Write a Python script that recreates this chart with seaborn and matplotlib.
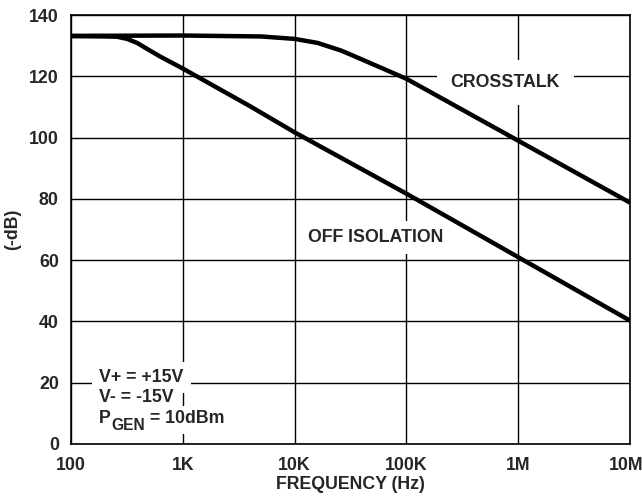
import numpy as np
import pandas as pd
import matplotlib
matplotlib.use('Agg')
import matplotlib.pyplot as plt
import matplotlib.transforms as mtransforms
from matplotlib.patches import Rectangle
import seaborn as sns

# values
iso_freq = [100, 200, 257, 316, 388, 500, 628, 1000, 4000, 10000, 1e5, 1e6, 1e7]
iso_db = [133.1, 133.0, 132.9, 132.2, 130.9, 128.5, 126.4, 122.5, 110.2, 101.7, 81.7, 61.0, 40.3]

xt_freq = [100, 1000, 5000, 10000, 16000, 26000, 34000, 55000, 1e5, 1e6, 1e7]
xt_db = [133.2, 133.3, 133.0, 132.2, 130.9, 128.4, 126.6, 123.3, 119.2, 99.0, 78.8]

x_ticks = [100, 1e3, 1e4, 1e5, 1e6, 1e7]
x_labels = ['100', '1K', '10K', '100K', '1M', '10M']
y_ticks = [0, 20, 40, 60, 80, 100, 120, 140]

sns.set_style('white')
plt.rcParams['font.family'] = ['Liberation Sans', 'DejaVu Sans']
plt.rcParams['font.weight'] = 'bold'

fs = 12.8

df_iso = pd.DataFrame({'freq': iso_freq, 'db': iso_db})
df_xt = pd.DataFrame({'freq': xt_freq, 'db': xt_db})

fig = plt.figure(figsize=(6.42, 5.0), dpi=100)
ax = fig.add_axes([0.111, 0.112, 0.870, 0.858])

sns.lineplot(data=df_xt, x='freq', y='db', ax=ax, color='black', lw=3.2, zorder=3)
sns.lineplot(data=df_iso, x='freq', y='db', ax=ax, color='black', lw=3.2, zorder=3)

ax.set_xscale('log')
ax.set_xlim(100, 1e7)
ax.set_ylim(0, 140)
ax.set_xticks(x_ticks)
ax.set_xticklabels(x_labels)
ax.set_yticks(y_ticks)
ax.minorticks_off()
ax.tick_params(axis='both', length=0, pad=9, labelsize=fs)
for lab in ax.get_xticklabels() + ax.get_yticklabels():
    lab.set_fontweight('bold')
# nudge "10M" a little left so it stays inside the picture
last = ax.get_xticklabels()[-1]
last.set_transform(last.get_transform() +
                   mtransforms.ScaledTranslation(-4 / 100, 0, fig.dpi_scale_trans))

ax.set_axisbelow(True)
ax.grid(True, which='major', color='black', lw=1)
for s in ax.spines.values():
    s.set_color('black')
    s.set_linewidth(1.2)

ax.set_xlabel('FREQUENCY (Hz)', fontsize=fs, fontweight='bold', labelpad=2)
ax.set_ylabel('(-dB)', fontsize=fs, fontweight='bold')
ax.yaxis.set_label_coords(-0.089, 0.5)

ax.text(7.7e5, 118, 'CROSSTALK', fontsize=fs, fontweight='bold',
        ha='center', va='center', zorder=2,
        bbox=dict(facecolor='white', edgecolor='none', boxstyle='square,pad=0.8'))
ax.text(5.3e4, 67.5, 'OFF ISOLATION', fontsize=fs, fontweight='bold',
        ha='center', va='center', zorder=2,
        bbox=dict(facecolor='white', edgecolor='none', boxstyle='square,pad=0.45'))

wbox = dict(facecolor='white', edgecolor='none', boxstyle='square,pad=0.4')
ax.text(178, 20.3, 'V+ = +15V', fontsize=fs, fontweight='bold', ha='left',
        va='baseline', zorder=2, bbox=wbox)
ax.text(178, 13.8, 'V- = -15V', fontsize=fs, fontweight='bold', ha='left',
        va='baseline', zorder=2, bbox=wbox)
# white backing for the third line, then P with a big "GEN" subscript in pieces
ax.add_patch(Rectangle((150, 3.3), 2850 - 150, 9.0, facecolor='white',
                       edgecolor='none', zorder=1.9))
p_txt = ax.text(178, 6.8, 'P', fontsize=fs, fontweight='bold', ha='left',
                va='baseline', zorder=2.5)
sub = ax.annotate('GEN', xy=(1, 0), xycoords=p_txt, xytext=(0, -4),
                  textcoords='offset points', fontsize=fs * 0.88, fontweight='bold',
                  ha='left', va='bottom', zorder=2.5)
ax.annotate(' = 10dBm', xy=(1, 0), xycoords=sub, xytext=(0, 4),
            textcoords='offset points', fontsize=fs, fontweight='bold',
            ha='left', va='bottom', zorder=2.5)

fig.savefig('out.png', dpi=100)
